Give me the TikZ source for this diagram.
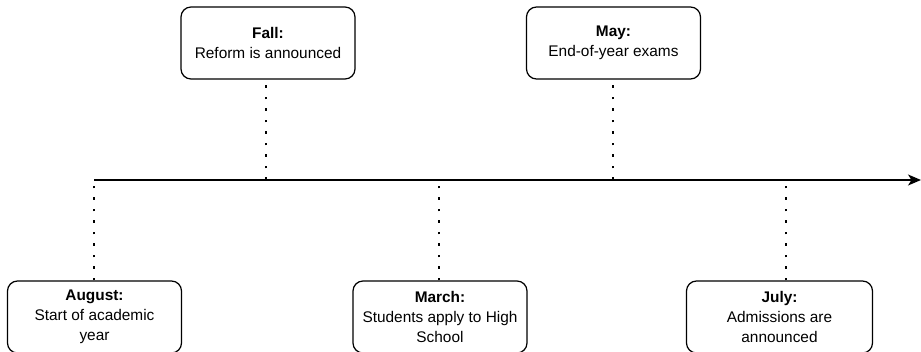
\documentclass[tikz,border=0pt]{standalone}
\usepackage{fontspec}
\setmainfont{Liberation Sans}
\usepackage{tikz}
\usetikzlibrary{shapes.geometric, arrows, arrows.meta}
\tikzstyle{event} =
[rectangle, rounded corners=10pt, minimum width = 174pt, minimum height = 72pt,
text centered, align=center, draw=black, line width=1.2pt, fill=white,
font=\fontsize{15.4}{20}\selectfont]
\tikzstyle{tick} = [draw, line width=2.5pt, dash pattern=on 2.5pt off 9pt]
\tikzstyle{line} = [draw, line width=1.3pt, -{Stealth[length=13pt, width=11pt, inset=3.5pt]}]

\begin{document}
\begin{tikzpicture}[x=1pt, y=1pt, node distance = 345.5pt]
  \useasboundingbox (0,0) rectangle (921,351);
  % timeline
  \coordinate (start) at (94,171);
  \coordinate (stop) at (921,171);
  \path [line] (start) -- (stop);
  % lower events
  \node [event] (august) at (94.5,34)
   {\textbf{August:}\\Start of academic\\year};
  \node [event, right of=august] (march)
   {\textbf{March:}\\Students apply to High\\School};
  \node [event, minimum width=186pt, right of=march, node distance=339.5pt] (july)
   {\textbf{July:}\\Admissions are\\announced};
  % upper events
  \node [event] (fall) at (268,308)
   {\textbf{Fall:}\\Reform is announced};
  \node [event, right of=fall] (may)
   {\textbf{May:}\\End-of-year exams};
  % tick marks on the timeline
  \coordinate (taugust) at (94,171);
  \coordinate (tmarch) at (439,171);
  \coordinate (tjuly) at (786,171);
  \coordinate (tfall) at (266,171);
  \coordinate (tmay) at (613,171);
  \path [tick] (taugust |- august.north) -- (taugust);
  \path [tick] (tmarch |- march.north) -- (tmarch);
  \path [tick] (tjuly |- july.north) -- (tjuly);
  \path [tick] (tfall) -- (tfall |- fall.south);
  \path [tick] (tmay) -- (tmay |- may.south);
\end{tikzpicture}
\end{document}
